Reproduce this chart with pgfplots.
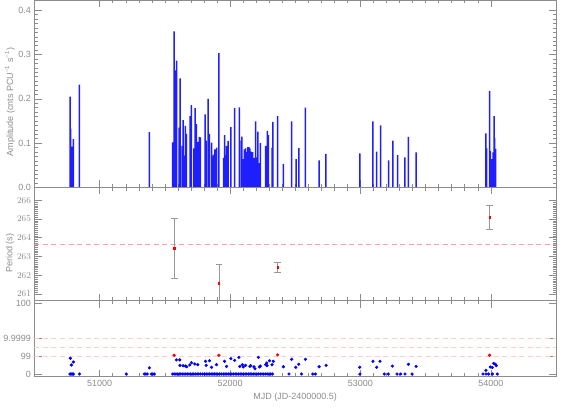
\documentclass[border=0pt]{standalone}
\usepackage{fontspec}
\setmainfont{Liberation Sans}
\usepackage{pgfplots}
\pgfplotsset{compat=1.18}

\definecolor{axgray}{gray}{0.55}
\definecolor{errgray}{gray}{0.6}
\definecolor{barblue}{RGB}{30,30,255}
\definecolor{dashred}{RGB}{255,160,160}
\definecolor{dashpink}{RGB}{255,205,205}

\pgfplotsset{
  panel/.style={
    scale only axis, width=521.5pt,
    anchor=south west,
    xmin=50500, xmax=54500,
    xtick={51000,52000,53000,54000},
    minor x tick num=9,
    scaled x ticks=false, scaled y ticks=false,
    major tick length=7pt, minor tick length=3.5pt,
    axis line style={axgray},
    tick style={axgray, line width=0.5pt},
    every tick label/.append style={text=axgray, font=\fontsize{9}{10}\selectfont},
    label style={text=axgray, font=\fontsize{9}{10}\selectfont},
  },
}

\begin{document}
\begin{tikzpicture}
\useasboundingbox (0,0) rectangle (568pt,419pt);

% amplitude panel
\begin{axis}[panel, at={(34.5pt,231.5pt)}, height=187.5pt,
  ymin=0, ymax=0.423,
  ytick={0,0.1,0.2,0.3,0.4}, yticklabels={0.0,0.1,0.2,0.3,0.4},
  minor y tick num=9,
  xticklabels={},
  ylabel={Amplitude (cnts PCU\textsuperscript{−1} s\textsuperscript{−1})},
  ylabel style={at={(axis description cs:-0.047,0.456)}, anchor=center},
]
\addplot[ybar, bar width=1.5pt, bar shift=0pt, fill=barblue, draw=none] coordinates {
(50773,0.205) (50778,0.133) (50786,0.092) (50794,0.073) (50798,0.109)
(50845,0.232) (51381,0.125)
(51560,0.102) (51571,0.352) (51581,0.264) (51591,0.286) (51609,0.135)
(51617,0.246) (51632,0.094) (51640,0.152) (51648,0.072) (51658,0.139)
(51665,0.121) (51694,0.161) (51704,0.186) (51722,0.088) (51732,0.179)
(51742,0.143) (51752,0.103) (51765,0.114) (51773,0.113) (51809,0.165)
(51817,0.106) (51832,0.200) (51842,0.121) (51858,0.101) (51865,0.070)
(51873,0.074) (51883,0.086) (51896,0.090) (51914,0.303) (51950,0.067)
(51958,0.118) (51965,0.073) (51973,0.094) (51986,0.105) (52006,0.136)
(52035,0.179) (52071,0.181) (52075,0.106) (52091,0.115) (52102,0.064)
(52109,0.086) (52119,0.088) (52127,0.080) (52137,0.091) (52145,0.091)
(52152,0.088) (52163,0.081) (52173,0.080) (52181,0.067) (52188,0.066)
(52196,0.149) (52204,0.068) (52214,0.126) (52222,0.055) (52232,0.100)
(52273,0.094) (52281,0.072) (52286,0.128) (52294,0.118) (52322,0.090)
(52329,0.148) (52365,0.161) (52409,0.053) (52473,0.149) (52506,0.064)
(52527,0.089) (52578,0.180) (52683,0.061) (52735,0.076) (52996,0.077)
(53096,0.149) (53125,0.081) (53155,0.140) (53217,0.061) (53248,0.106)
(53286,0.073) (53340,0.068) (53368,0.114) (53427,0.079)
(53963,0.122) (53968,0.088) (53991,0.218) (53996,0.082) (54006,0.064)
(54017,0.079) (54025,0.161) (54029,0.112) (54037,0.087)
};
\end{axis}

% period panel
\begin{axis}[panel, at={(34.5pt,118.3pt)}, height=113.2pt,
  ymin=260.64, ymax=266.68,
  ytick={261,262,263,264,265,266},
  minor y tick num=9,
  xticklabels={},
  ylabel={Period (s)},
  ylabel style={at={(axis description cs:-0.047,0.42)}, anchor=center},
]
\addplot[dashred, line width=0.9pt, dash pattern=on 5pt off 3.5pt]
  coordinates {(50500,263.65) (54500,263.65)};
\addplot[draw=errgray, only marks, mark=square*, mark size=0.8pt,
  mark options={draw=red, fill=red},
  error bars/.cd, y dir=both, y explicit, error mark=-,
  error bar style={draw=errgray, line width=0.5pt},
  error mark options={rotate=90, draw=errgray, mark size=3.2pt, line width=0.5pt}]
  coordinates {
  (51573,263.43) +- (0,1.60)
  (51914,261.57) +- (0,1.02)
  (52365,262.43) +- (0,0.27)
  (53991,265.09) +- (0,0.65)
};
\end{axis}

% significance panel
\begin{axis}[panel, at={(34.5pt,42.3pt)}, height=76pt,
  ymin=-0.15, ymax=4.14,
  ytick={0,1,2,3.97}, yticklabels={0,99,9.9999,100},
  xticklabels={51000,52000,53000,54000},
  xlabel={MJD (JD-2400000.5)},
]
\addplot[dashpink, line width=0.8pt, dash pattern=on 5pt off 3.5pt]
  coordinates {(50500,1) (54500,1)};
\addplot[dashpink, line width=0.8pt, dash pattern=on 5pt off 3.5pt]
  coordinates {(50500,1.5) (54500,1.5)};
\addplot[dashpink, line width=0.8pt, dash pattern=on 5pt off 3.5pt]
  coordinates {(50500,2) (54500,2)};
% below 99 per cent
\addplot[only marks, mark=*, mark size=1.4pt, blue] coordinates {
(50775,0.89) (50783,0.51) (50798,0.68) (51381,0.35)
(51588,0.80) (51614,0.80) (51616,0.49) (51640,0.47) (51658,0.45)
(51668,0.41) (51691,0.51) (51704,0.64) (51729,0.57) (51752,0.53)
(51812,0.72) (51817,0.49) (51842,0.75) (51858,0.38) (51896,0.53)
(51958,0.72) (51973,0.43) (52006,0.87) (52035,0.77) (52068,0.94)
(52075,0.43) (52094,0.53) (52102,0.40) (52119,0.49) (52152,0.43)
(52158,0.47) (52183,0.41) (52191,0.30) (52217,0.94) (52225,0.40)
(52232,0.45) (52273,0.53) (52281,0.62) (52284,0.47) (52302,0.75)
(52322,0.53) (52332,0.72) (52409,0.41) (52473,0.83) (52504,0.38)
(52527,0.55) (52578,0.83) (52683,0.41) (52737,0.49) (52994,0.38)
(53096,0.72) (53125,0.38) (53150,0.72) (53245,0.45) (53368,0.55)
(53427,0.43) (53963,0.21) (53996,0.40) (54012,0.36) (54022,0.60)
(54035,0.55) (54042,0.47)
};
% zero significance
\addplot[only marks, mark=*, mark size=1.4pt, blue] coordinates {
(50772,0) (50778,0) (50786,0) (50794,0) (50798,0) (50845,0)
(51204,0) (51342,0) (51354,0) (51365,0) (51396,0) (51408,0) (51419,0)
(51560,0) (51572,0) (51585,0) (51598,0) (51610,0) (51622,0) (51634,0)
(51647,0) (51660,0) (51672,0) (51685,0) (51697,0) (51710,0) (51722,0)
(51735,0) (51748,0) (51760,0) (51773,0) (51790,0) (51805,0) (51817,0)
(51830,0) (51842,0) (51855,0) (51868,0) (51880,0) (51893,0) (51906,0)
(51920,0) (51935,0) (51950,0) (51962,0) (51975,0) (51988,0) (52000,0)
(52013,0) (52026,0) (52040,0) (52052,0) (52065,0) (52078,0) (52090,0)
(52103,0) (52116,0) (52128,0) (52141,0) (52154,0) (52167,0) (52180,0)
(52192,0) (52205,0) (52218,0) (52232,0) (52245,0) (52258,0) (52272,0)
(52285,0) (52298,0) (52311,0) (52325,0)
(52452,0) (52548,0) (52635,0) (52655,0) (52996,0) (53183,0) (53214,0)
(53281,0) (53309,0) (53342,0) (53396,0)
(53940,0) (53963,0) (53983,0) (54012,0) (54050,0)
};
% above 99 per cent
\addplot[only marks, mark=*, mark size=1.4pt, red] coordinates {
(51571,1.06) (51914,1.06) (52365,1.08) (53991,1.06)
};
\end{axis}
\end{tikzpicture}
\end{document}
